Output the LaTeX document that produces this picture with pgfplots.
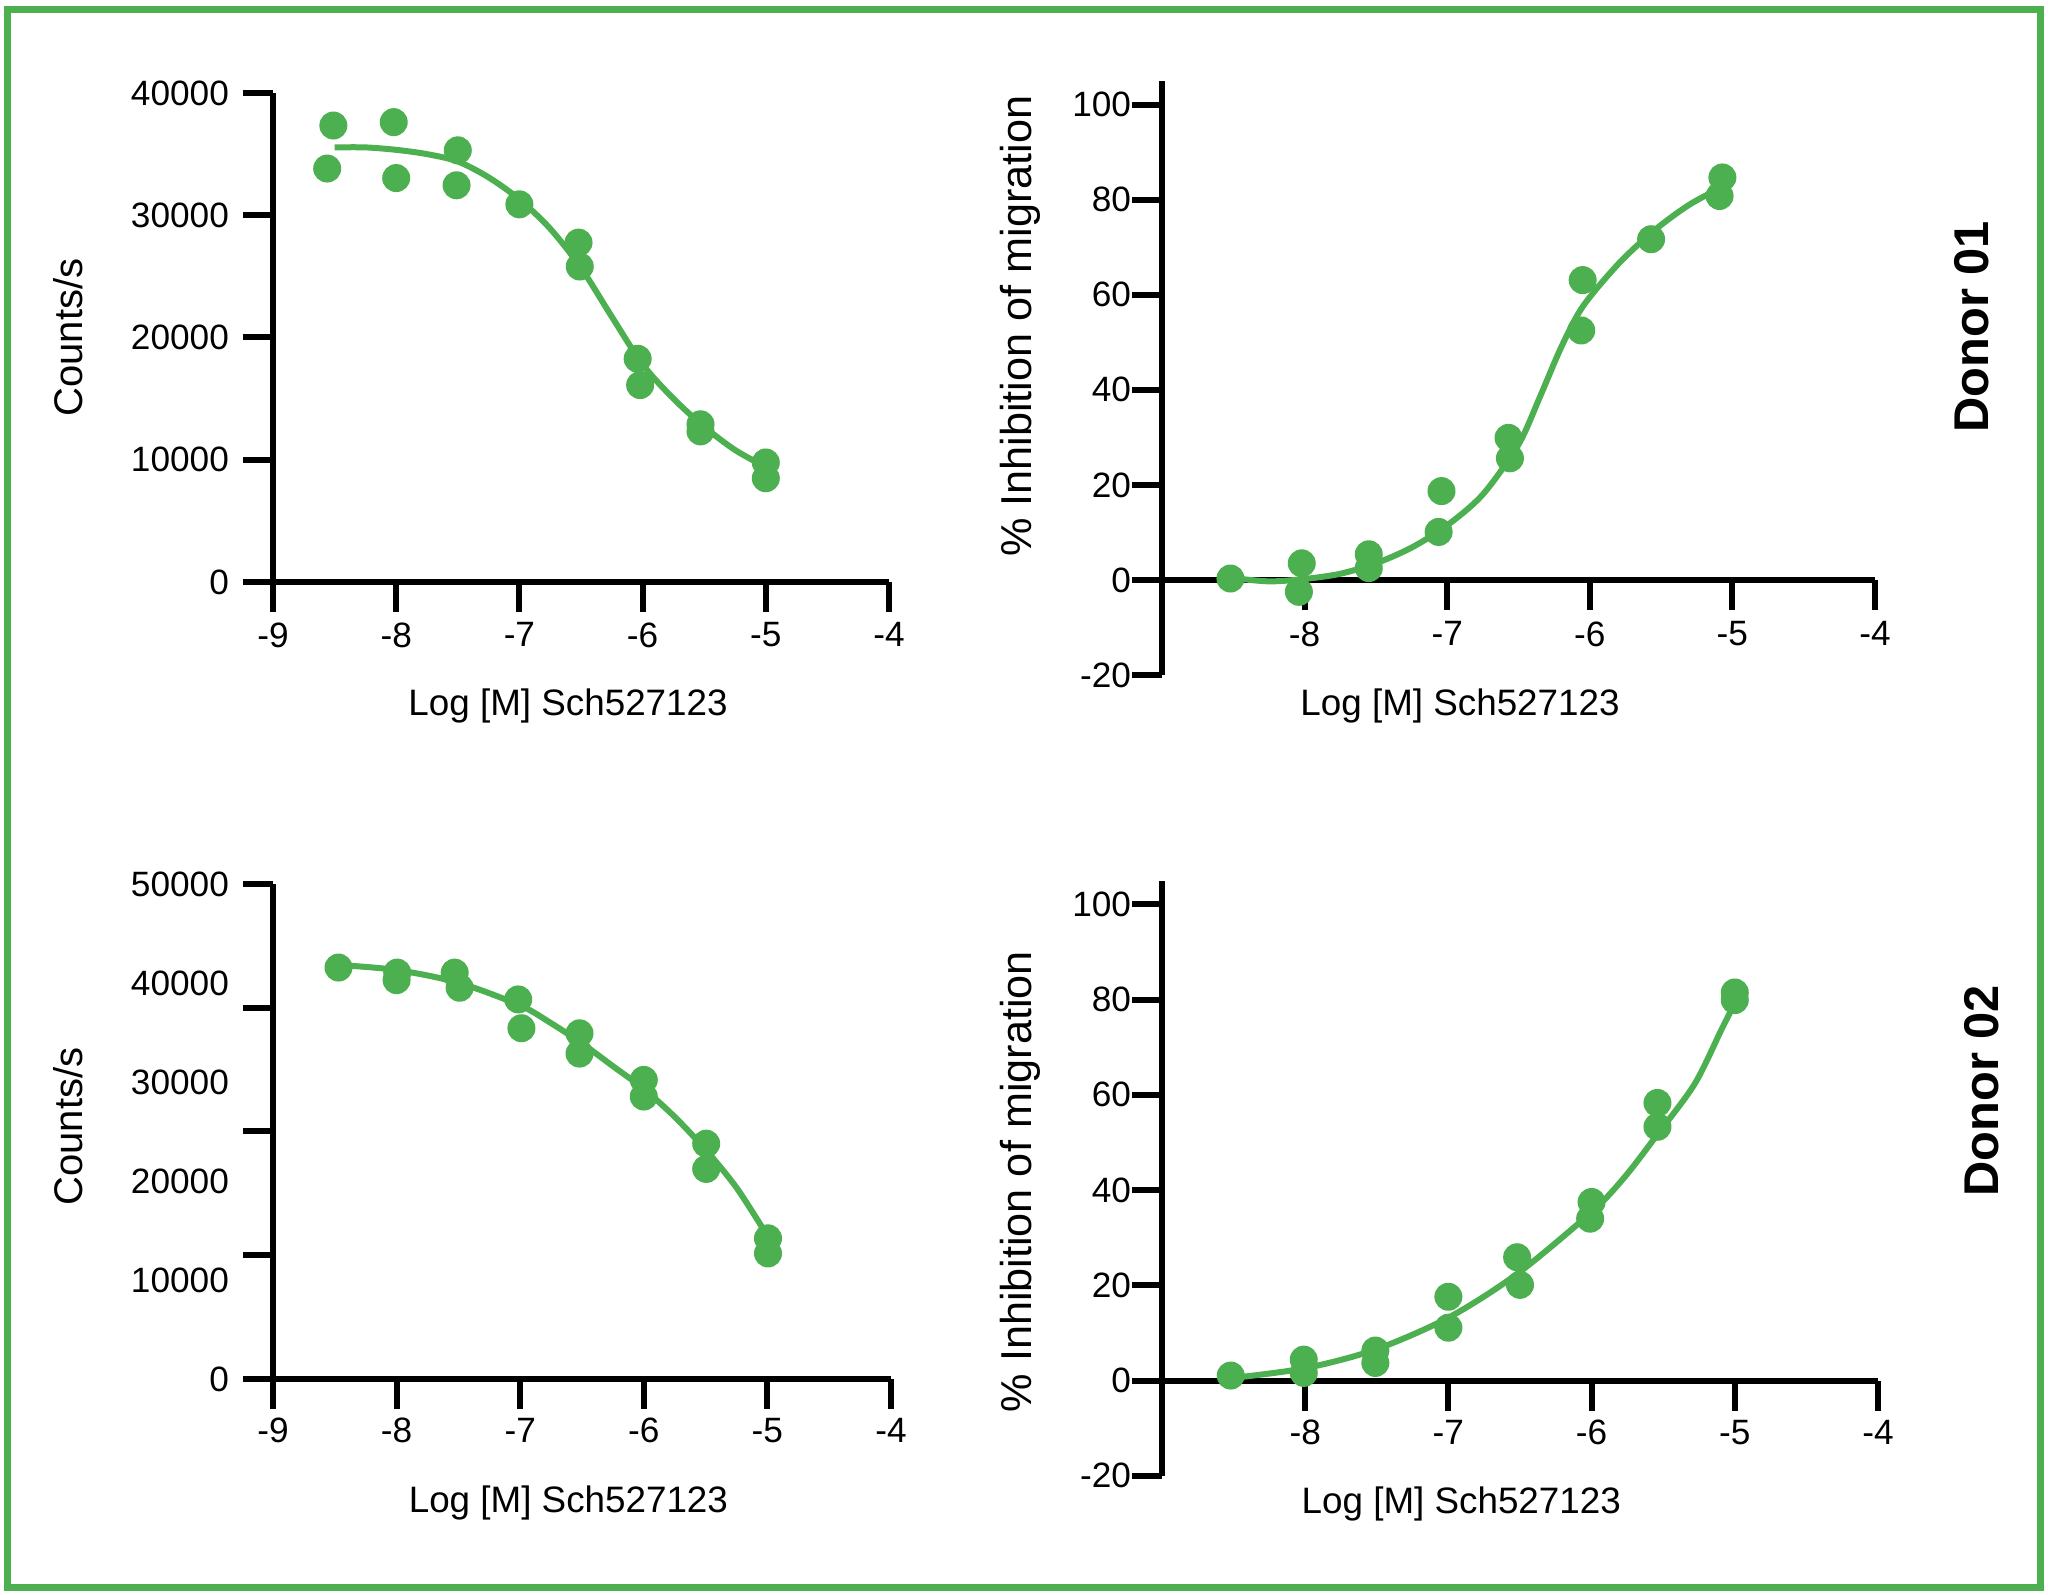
\documentclass[border=0pt]{standalone}
\usepackage{fontspec}
\setmainfont{Liberation Sans}
\usepackage{pgfplots}
\pgfplotsset{compat=1.18}
\definecolor{pgreen}{RGB}{76,175,80}
\pgfplotsset{
  noarrows/.style={
    every outer x axis line/.append style={-},
    every outer y axis line/.append style={-},
    every inner x axis line/.append style={-},
    every inner y axis line/.append style={-},
    tick align=outside,
  },
  panel/.style={
    scale only axis, clip=false,
    axis line style={line width=1.5pt,-},
    every tick/.style={line width=1.5pt,black},
    major tick length=7.5pt,
    scaled x ticks=false, scaled y ticks=false,
    ticklabel style={font=\fontsize{8.8}{10}\selectfont},
    xmin=-9, xmax=-4,
    xlabel={Log [M] Sch527123},
  },
  pts/.style={only marks, mark=*, mark size=3.3pt, mark options={fill=pgreen,draw=pgreen}},
  crv/.style={no marks, smooth, pgreen, line width=1.5pt},
}
\begin{document}
\begin{tikzpicture}
\useasboundingbox (0,0) rectangle (512pt,398.75pt);
\draw[pgreen, line width=1.75pt] (1.9pt,1.9pt) rectangle (510pt,396.25pt);

% Panel 1
\begin{axis}[panel, at={(68.25pt,253.25pt)}, anchor=south west,
  width=154pt, height=122.25pt, ymin=0, ymax=40000,
  axis lines=left, noarrows,
  xtick={-9,-8,-7,-6,-5,-4}, xticklabels={-9,-8,-7,-6,-5,-4},
  xticklabel style={yshift=0.9pt},
  ytick={0,10000,20000,30000,40000}, yticklabels={0,10000,20000,30000,40000},
  ylabel={Counts/s},
  ylabel style={at={([xshift=-51.25pt]axis description cs:0,0.5)}, anchor=center, font=\fontsize{10}{12}\selectfont},
  xlabel style={at={([yshift=-31pt]axis description cs:0.479,0)}, anchor=center, font=\fontsize{9.2}{11}\selectfont},
]
\addplot[crv] coordinates {(-8.5,35550) (-8.25,35550) (-8.0,35350) (-7.75,35000) (-7.5,34400) (-7.25,33100) (-7.0,31300) (-6.75,28900) (-6.5,25700) (-6.25,21700) (-6.0,17800) (-5.75,15000) (-5.5,12700) (-5.25,10800) (-5.0,9400)};
\addplot[pts] coordinates {(-8.51,37340) (-8.56,33820) (-8.02,37615) (-8.0,33040) (-7.5,35310) (-7.51,32450) (-7.0,30890) (-6.52,27760) (-6.51,25806) (-6.04,18260) (-6.02,16110) (-5.53,12900) (-5.53,12320) (-5.0,9775) (-5.0,8485)};
\end{axis}

% Panel 2
\begin{axis}[panel, at={(290.5pt,230pt)}, anchor=south west,
  width=178.25pt, height=148.5pt, ymin=-20, ymax=105,
  axis x line=middle, axis y line=left, noarrows,
  hide obscured y ticks=false, hide obscured x ticks=false,
  xtick={-8,-7,-6,-5,-4}, xticklabels={-8,-7,-6,-5,-4},
  xticklabel style={anchor=north, yshift=0.6pt},
  yticklabel style={xshift=3.3pt},
  ytick={-20,0,20,40,60,80,100}, yticklabels={-20,0,20,40,60,80,100},
  ylabel={\% Inhibition of migration},
  ylabel style={at={([xshift=-35.5pt]axis description cs:0,0.587)}, anchor=center, font=\fontsize{10.8}{12}\selectfont},
  xlabel style={at={([yshift=-7.8pt]axis description cs:0.418,0)}, anchor=center, font=\fontsize{9.2}{11}\selectfont},
]
\addplot[crv] coordinates {(-8.5,0.4) (-8.25,-0.3) (-8.0,0.2) (-7.75,1.3) (-7.5,3.5) (-7.25,6.8) (-7.0,11.5) (-6.75,18.0) (-6.5,28.5) (-6.35,38.5) (-6.2,49) (-6.05,57.5) (-5.8,66.5) (-5.55,73.5) (-5.3,79) (-5.05,83)};
\addplot[pts] coordinates {(-8.52,0.3) (-8.02,3.5) (-8.04,-2.5) (-7.55,5.4) (-7.55,2.5) (-7.04,18.7) (-7.06,10.1) (-6.57,29.9) (-6.56,25.6) (-6.05,63.1) (-6.06,52.5) (-5.57,71.7) (-5.07,84.7) (-5.09,80.8)};
\end{axis}

% Panel 3
\begin{axis}[panel, at={(68.25pt,54pt)}, anchor=south west,
  width=154.5pt, height=123.75pt, ymin=0, ymax=50000,
  axis lines=left, noarrows,
  xtick={-9,-8,-7,-6,-5,-4}, xticklabels={-9,-8,-7,-6,-5,-4},
  xticklabel style={yshift=1.2pt},
  ytick={0,10000,20000,30000,40000,50000}, yticklabels={0,10000,20000,30000,40000,50000},
  ytick style={draw=none},
  extra y ticks={0,12500,25000,37500,50000}, extra y tick labels={},
  extra y tick style={ytick style={draw=black,line width=1.5pt}},
  ylabel={Counts/s},
  ylabel style={at={([xshift=-51.25pt]axis description cs:0,0.51)}, anchor=center, font=\fontsize{10}{12}\selectfont},
  xlabel style={at={([yshift=-31pt]axis description cs:0.478,0)}, anchor=center, font=\fontsize{9.2}{11}\selectfont},
]
\addplot[crv] coordinates {(-8.47,41820) (-8.0,41310) (-7.5,40030) (-7.0,37730) (-6.75,35940) (-6.5,33900) (-6.25,31600) (-6.0,29300) (-5.75,26480) (-5.5,23160) (-5.25,19330) (-5.0,14470)};
\addplot[pts] coordinates {(-8.47,41560) (-7.995,41050) (-8.0,40290) (-7.53,41050) (-7.49,39520) (-7.016,38340) (-6.99,35430) (-6.52,34920) (-6.52,32870) (-6.0,30210) (-6.0,28530) (-5.495,23770) (-5.495,21220) (-4.995,14210) (-4.995,12680)};
\end{axis}

% Panel 4
\begin{axis}[panel, at={(290.5pt,29.8pt)}, anchor=south west,
  width=179pt, height=148.8pt, ymin=-20, ymax=105,
  axis x line=middle, axis y line=left, noarrows,
  hide obscured y ticks=false, hide obscured x ticks=false,
  xtick={-8,-7,-6,-5,-4}, xticklabels={-8,-7,-6,-5,-4},
  xticklabel style={anchor=north, yshift=1.2pt},
  yticklabel style={xshift=3.3pt},
  ytick={-20,0,20,40,60,80,100}, yticklabels={-20,0,20,40,60,80,100},
  ylabel={\% Inhibition of migration},
  ylabel style={at={([xshift=-35.5pt]axis description cs:0,0.494)}, anchor=center, font=\fontsize{10.8}{12}\selectfont},
  xlabel style={at={([yshift=-7.1pt]axis description cs:0.418,0)}, anchor=center, font=\fontsize{9.2}{11}\selectfont},
]
\addplot[crv] coordinates {(-8.52,0.5) (-8.0,2.6) (-7.51,6.5) (-7.0,13.2) (-6.52,22.4) (-6.0,35.4) (-5.77,42.7) (-5.54,51.7) (-5.28,62.3) (-5.09,73.9) (-5.0,79.2)};
\addplot[pts] coordinates {(-8.52,1.05) (-8.01,4.4) (-8.01,1.6) (-7.51,6.3) (-7.51,3.7) (-7.0,17.6) (-7.0,11.1) (-6.52,25.9) (-6.5,20.1) (-6.0,37.5) (-6.01,34.0) (-5.54,58.3) (-5.54,53.3) (-5.0,81.5) (-5.0,79.9)};
\end{axis}

\node[rotate=90, font=\bfseries\fontsize{12.2}{14}\selectfont] at (492.9pt,317.1pt) {Donor 01};
\node[rotate=90, font=\bfseries\fontsize{12.2}{14}\selectfont] at (495.5pt,126.1pt) {Donor 02};
\end{tikzpicture}
\end{document}
